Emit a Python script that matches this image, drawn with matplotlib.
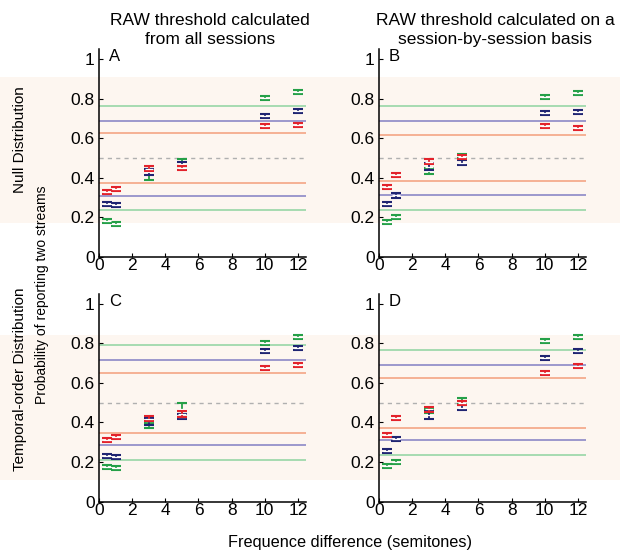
import matplotlib
matplotlib.use("Agg")
import matplotlib.pyplot as plt
from matplotlib.patches import Rectangle
from matplotlib.ticker import FuncFormatter

plt.rcParams['font.family'] = ['Liberation Sans', 'DejaVu Sans']

# ---------------- data ----------------
freq = [0.5, 1, 3, 5, 10, 12]
panel_labels = ["A", "B", "C", "D"]

A_red = [0.328, 0.341, 0.445, 0.450, 0.661, 0.667]
A_red_err = [0.010, 0.010, 0.012, 0.011, 0.010, 0.010]
A_blue = [0.269, 0.264, 0.428, 0.471, 0.714, 0.739]
A_blue_err = [0.010, 0.010, 0.015, 0.011, 0.010, 0.010]
A_green = [0.180, 0.168, 0.418, 0.478, 0.802, 0.832]
A_green_err = [0.010, 0.010, 0.028, 0.018, 0.010, 0.010]
A_thr_red = [0.627, 0.373]
A_thr_blue = [0.689, 0.308]
A_thr_green = [0.763, 0.235]

B_red = [0.355, 0.415, 0.482, 0.505, 0.659, 0.650]
B_red_err = [0.010, 0.010, 0.011, 0.011, 0.010, 0.010]
B_blue = [0.269, 0.311, 0.455, 0.477, 0.728, 0.731]
B_blue_err = [0.010, 0.011, 0.018, 0.012, 0.010, 0.010]
B_green = [0.178, 0.200, 0.435, 0.510, 0.810, 0.829]
B_green_err = [0.010, 0.010, 0.015, 0.011, 0.010, 0.010]
B_thr_red = [0.617, 0.382]
B_thr_blue = [0.686, 0.311]
B_thr_green = [0.761, 0.239]

C_red = [0.310, 0.329, 0.419, 0.445, 0.676, 0.688]
C_red_err = [0.010, 0.010, 0.012, 0.015, 0.010, 0.010]
C_blue = [0.231, 0.226, 0.405, 0.430, 0.760, 0.777]
C_blue_err = [0.010, 0.010, 0.020, 0.012, 0.011, 0.010]
C_green = [0.177, 0.168, 0.386, 0.470, 0.803, 0.833]
C_green_err = [0.010, 0.010, 0.012, 0.027, 0.010, 0.010]
C_thr_red = [0.652, 0.347]
C_thr_blue = [0.715, 0.285]
C_thr_green = [0.791, 0.209]

D_red = [0.338, 0.422, 0.466, 0.498, 0.651, 0.683]
D_red_err = [0.010, 0.010, 0.011, 0.011, 0.010, 0.010]
D_blue = [0.255, 0.317, 0.440, 0.475, 0.724, 0.760]
D_blue_err = [0.010, 0.010, 0.020, 0.012, 0.010, 0.010]
D_green = [0.181, 0.200, 0.458, 0.510, 0.811, 0.833]
D_green_err = [0.010, 0.010, 0.011, 0.015, 0.010, 0.010]
D_thr_red = [0.626, 0.374]
D_thr_blue = [0.690, 0.311]
D_thr_green = [0.766, 0.237]

col_titles = ["RAW threshold calculated\nfrom all sessions",
              "RAW threshold calculated on a\nsession-by-session basis"]
row_titles = ["Null Distribution", "Temporal-order Distribution"]
ylabel_text = "Probability of reporting two streams"
xlabel_text = "Frequence difference (semitones)"
xticks = [0, 2, 4, 6, 8, 10, 12]
yticks = [0, 0.2, 0.4, 0.6, 0.8, 1]

# ---------------- styles ----------------
c_red, c_blue, c_green = "#e3222b", "#1f2472", "#25a048"
l_red, l_blue, l_green = "#f4a584", "#8b88c6", "#98d6a6"
band_color = "#fdf6f0"

W, H = 624, 558
fig = plt.figure(figsize=(W / 100, H / 100), dpi=100)


def fx(px):
    return px / W


def fy(py):
    return 1 - py / H


# background axes holding the shaded bands (pixel coordinates, y down)
bg = fig.add_axes([0, 0, 1, 1], zorder=-1)
bg.set_xlim(0, W)
bg.set_ylim(H, 0)
bg.axis("off")
for top, bot in [(77, 223), (335, 480)]:
    bg.add_patch(Rectangle((0, top), 620, bot - top, facecolor=band_color, edgecolor="none"))

axes_pos = {
    "A": (99, 257),
    "B": (379, 257),
    "C": (99, 501.7),
    "D": (379, 501.7),
}
ax_w_px = 207.2
ax_h_px = 208

panels = {
    "A": (A_red, A_red_err, A_blue, A_blue_err, A_green, A_green_err, A_thr_red, A_thr_blue, A_thr_green),
    "B": (B_red, B_red_err, B_blue, B_blue_err, B_green, B_green_err, B_thr_red, B_thr_blue, B_thr_green),
    "C": (C_red, C_red_err, C_blue, C_blue_err, C_green, C_green_err, C_thr_red, C_thr_blue, C_thr_green),
    "D": (D_red, D_red_err, D_blue, D_blue_err, D_green, D_green_err, D_thr_red, D_thr_blue, D_thr_green),
}

for lab in panel_labels:
    x0, y0 = axes_pos[lab]
    ax = fig.add_axes([fx(x0), fy(y0), ax_w_px / W, ax_h_px / H], zorder=1)
    ax.patch.set_alpha(0)
    red, red_e, blue, blue_e, green, green_e, tr, tb, tg = panels[lab]
    ax.set_xlim(0, 12.5)
    ax.set_ylim(0, 1.05)
    # threshold lines
    for v in tg:
        ax.axhline(v, color=l_green, lw=1.2, zorder=1)
    for v in tb:
        ax.axhline(v, color=l_blue, lw=1.2, zorder=1)
    for v in tr:
        ax.axhline(v, color=l_red, lw=1.2, zorder=1)
    ax.axhline(0.5, color="#b0b0b0", lw=1.0, ls=(0, (3, 3)), zorder=1)
    z = 3
    for vals, errs, c in [(green, green_e, c_green), (blue, blue_e, c_blue), (red, red_e, c_red)]:
        ax.errorbar(freq, vals, yerr=errs, fmt="none", ecolor=c,
                    capsize=3.8, capthick=1.5, elinewidth=1.3, zorder=z)
        ax.plot(freq, vals, ls="none", marker="_", ms=5.5, mew=0.9,
                color="white", zorder=z + 0.5)
        z += 1
    ax.text(0.6, 1.01, lab, fontsize=12, ha="left", va="center")
    for s in ["top", "right"]:
        ax.spines[s].set_visible(False)
    for s in ["left", "bottom"]:
        ax.spines[s].set_linewidth(1.1)
    ax.set_xticks(xticks)
    ax.set_yticks(yticks)
    ax.yaxis.set_major_formatter(FuncFormatter(lambda v, p: "%g" % v))
    ax.tick_params(direction="in", length=3, width=0.8, labelsize=12.5)
    ax.tick_params(axis="x", pad=1)
    ax.tick_params(axis="y", pad=3)

fig.text(fx(210), fy(30), col_titles[0], ha="center", va="center", fontsize=12.5, linespacing=1.35)
fig.text(fx(495), fy(30), col_titles[1], ha="center", va="center", fontsize=12.5, linespacing=1.35)
fig.text(fx(20), fy(140), row_titles[0], rotation=90, ha="center", va="center", fontsize=11)
fig.text(fx(20), fy(379), row_titles[1], rotation=90, ha="center", va="center", fontsize=11)
fig.text(fx(42), fy(295), ylabel_text, rotation=90, ha="center", va="center", fontsize=10)
fig.text(fx(350), fy(542), xlabel_text, ha="center", va="center", fontsize=11.7)

fig.savefig("out.png", dpi=100)
